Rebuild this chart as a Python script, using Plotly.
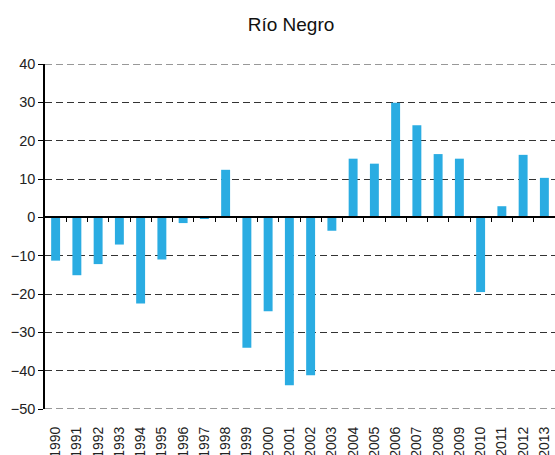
import plotly.graph_objects as go

YEARS = [str(y) for y in range(1990, 2014)]
VALUES = [-11.3, -15.1, -12.2, -7.1, -22.5, -11.0, -1.5, -0.2, 12.4, -34.0, -24.5, -43.8,
          -41.2, -3.5, 15.3, 14.0, 29.9, 24.0, 16.5, 15.3, -19.5, 2.9, 16.3, 10.3]
Y_TICKS = list(range(-50, 41, 10))
TITLE = "Río Negro"

FONT = "Liberation Sans, Arial, sans-serif"
BAR_COLOR = "#2AACE2"
GRID_COLOR = "#333333"

fig = go.Figure()
fig.add_trace(go.Bar(
    x=YEARS, y=VALUES, width=0.42,
    marker={"color": BAR_COLOR, "line": {"width": 0}},
    showlegend=False,
))

# invisible trace so the zero-line axis exists
fig.add_trace(go.Scatter(x=[0], y=[0], xaxis="x2", mode="markers",
                         marker={"opacity": 0}, showlegend=False, hoverinfo="skip"))

# dashed grid lines at the range edges (plotly drops these)
for yv in (Y_TICKS[0], Y_TICKS[-1]):
    fig.add_shape(type="line", xref="paper", x0=0, x1=1, yref="y", y0=yv, y1=yv,
                  line={"color": GRID_COLOR, "width": 1, "dash": "7px,4px"}, layer="below")

n = len(YEARS)
fig.update_layout(
    width=555, height=455,
    paper_bgcolor="white", plot_bgcolor="white",
    margin={"l": 45, "r": 0, "t": 64, "b": 46},
    font={"family": FONT, "color": "#222222", "size": 14.5},
    title={"text": TITLE, "x": 291 / 555, "xanchor": "center",
           "y": 1 - 24 / 455, "yanchor": "middle", "yref": "container",
           "font": {"size": 19, "color": "#111111"}},
    xaxis={
        "type": "category", "range": [-0.5, n - 0.5],
        "showline": False, "showgrid": False, "zeroline": False,
        "ticks": "outside", "ticklen": 11, "tickcolor": "rgba(0,0,0,0)",
        "tickangle": -90, "tickfont": {"size": 14}, "automargin": False,
    },
    xaxis2={
        "overlaying": "x", "anchor": "free", "position": 50 / 90,
        "range": [-0.5, n - 0.5],
        "tickvals": [i + 0.5 for i in range(n - 1)],
        "showticklabels": False, "ticks": "outside", "ticklen": 4,
        "tickcolor": "black", "showline": True, "linecolor": "black", "linewidth": 1.5,
        "showgrid": False, "zeroline": False,
    },
    yaxis={
        "range": [-50, 40], "tickvals": Y_TICKS,
        "showgrid": True, "gridcolor": GRID_COLOR, "gridwidth": 1, "griddash": "7px,4px",
        "zeroline": False, "showline": True, "linecolor": "black", "linewidth": 1.5,
        "ticks": "outside", "ticklen": 5, "tickcolor": "black",
        "tickfont": {"size": 14.5}, "automargin": False,
    },
)

fig.write_html("out.html", config={"displayModeBar": False},
               post_script="document.body.style.margin='0px';")
